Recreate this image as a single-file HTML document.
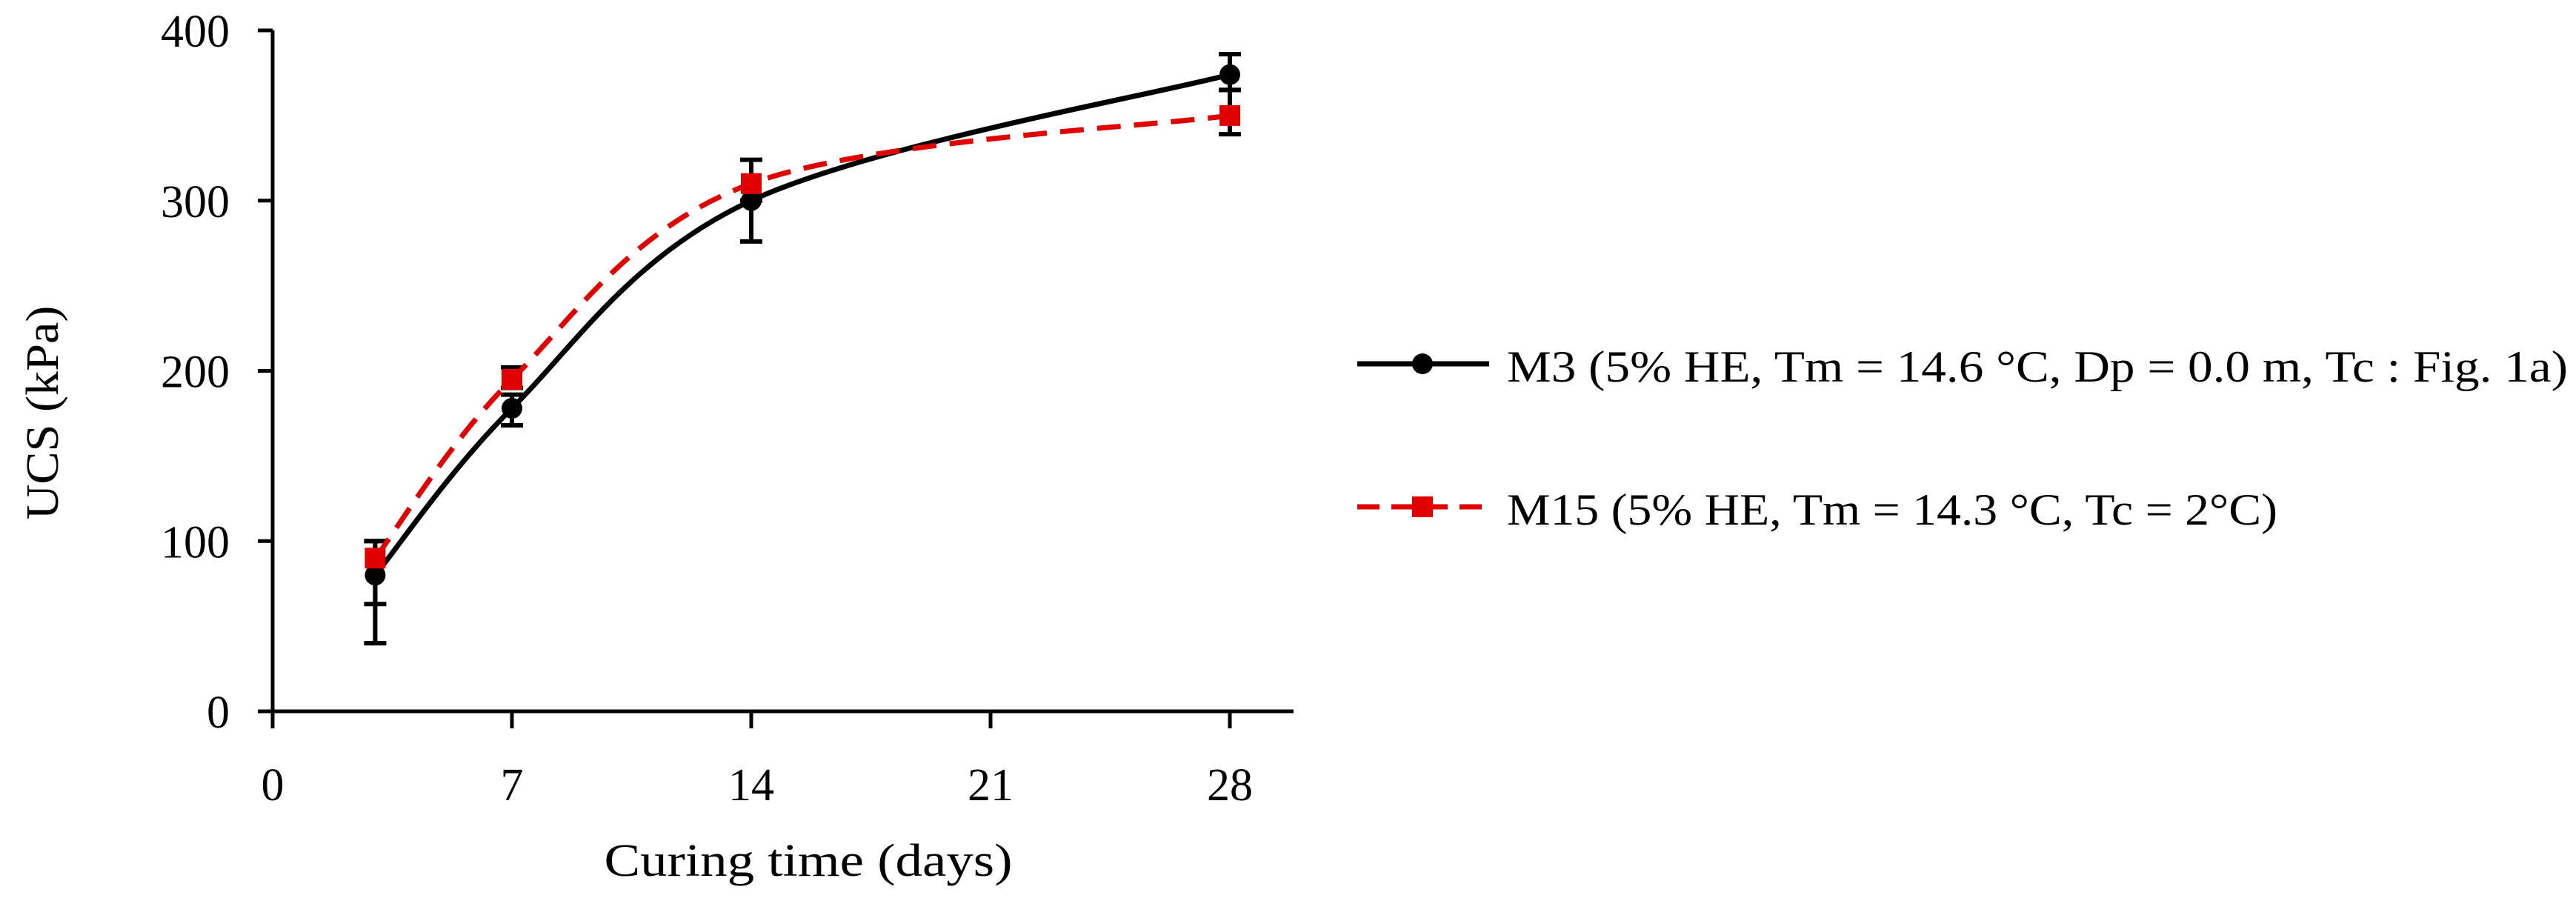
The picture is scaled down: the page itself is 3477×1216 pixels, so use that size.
<!DOCTYPE html>
<html><head><meta charset="utf-8"><style>html,body{margin:0;padding:0;background:#fff}svg{display:block}text{font-family:"Liberation Serif",serif;fill:#000}</style></head>
<body>
<svg id="chart" width="3477" height="1216" viewBox="0 0 3477 1216" xmlns="http://www.w3.org/2000/svg">
<g id="axes"></g>
<g id="series"></g>
<text x="1091" y="1182" font-size="62" text-anchor="middle" textLength="551" lengthAdjust="spacingAndGlyphs">Curing time (days)</text>
<text transform="translate(78,557) rotate(-90)" font-size="62" text-anchor="middle" textLength="289" lengthAdjust="spacingAndGlyphs">UCS (kPa)</text>
<g>
<line x1="1832" y1="491" x2="2010" y2="491" stroke="#000" stroke-width="7"/>
<circle cx="1920" cy="491" r="14" fill="#000"/>
<text x="2034" y="515" font-size="60" textLength="1432" lengthAdjust="spacingAndGlyphs">M3 (5% HE, Tm = 14.6 °C, Dp =  0.0 m, Tc : Fig. 1a)</text>
<line x1="1832" y1="684" x2="2010" y2="684" stroke="#e00000" stroke-width="7" stroke-dasharray="30,16"/>
<rect x="1906" y="670" width="28" height="28" fill="#e00000"/>
<text x="2034" y="708" font-size="60" textLength="1040" lengthAdjust="spacingAndGlyphs">M15 (5% HE, Tm = 14.3 °C, Tc = 2°C)</text>
</g>
</svg>
<script>
const days = [3, 7, 14, 28];
const m3Values = [80, 178, 300, 374];
const m3Lo = [40, 168, 276, 365];
const m3Hi = [100, 186, 300, 386];
const m15Values = [90, 195, 310, 350];
const m15Lo = [63, 190, 300, 339];
const m15Hi = [100, 202, 324, 365];
const xTicks = [0, 7, 14, 21, 28];
const yTicks = [0, 100, 200, 300, 400];

const NS = 'http://www.w3.org/2000/svg';
const X0 = 368, X1 = 1660, Y0 = 960, Y1 = 41;
function xs(d) { return X0 + (d / 28) * (X1 - X0); }
function ys(v) { return Y0 - (v / 400) * (Y0 - Y1); }
function mk(tag, attrs, parent) { const e = document.createElementNS(NS, tag); for (const k in attrs) e.setAttribute(k, attrs[k]); parent.appendChild(e); return e; }

const axes = document.getElementById('axes');
let e = mk('line', {x1: X0, y1: Y1, x2: X0, y2: Y0, stroke: '#000', 'stroke-width': 5}, axes);


e = mk('line', {x1: X0, y1: Y0, x2: 1746, y2: Y0, stroke: '#000', 'stroke-width': 5}, axes);


yTicks.forEach(v => {
  const t = mk('line', {x1: 348, y1: ys(v), x2: X0, y2: ys(v), stroke: '#000', 'stroke-width': 5}, axes);
  
  
  const l = mk('text', {x: 310, y: ys(v) + 22, 'font-size': 62, 'text-anchor': 'end'}, axes);
  l.textContent = v;
  
  
});
xTicks.forEach(d => {
  const t = mk('line', {x1: xs(d), y1: Y0, x2: xs(d), y2: 983, stroke: '#000', 'stroke-width': 5}, axes);
  
  
  const l = mk('text', {x: xs(d), y: 1080, 'font-size': 62, 'text-anchor': 'middle'}, axes);
  l.textContent = d;
  
  
});

function smoothPath(xsArr, vals) {
  const p = xsArr.map((d, i) => [xs(d), ys(vals[i])]);
  let s = 'M' + p[0][0] + ',' + p[0][1];
  for (let i = 0; i < p.length - 1; i++) {
    const a = p[Math.max(0, i - 1)], b = p[i], c = p[i + 1], d = p[Math.min(p.length - 1, i + 2)];
    const t = 1 / 6;
    s += ' C' + (b[0] + (c[0] - a[0]) * t) + ',' + (b[1] + (c[1] - a[1]) * t) + ' ' + (c[0] - (d[0] - b[0]) * t) + ',' + (c[1] - (d[1] - b[1]) * t) + ' ' + c[0] + ',' + c[1];
  }
  return s;
}
const g = document.getElementById('series');
function errBars(lo, hi, name) {
  days.forEach((d, i) => {
    const x = xs(d);
    const b = mk('path', {d: 'M' + x + ',' + ys(lo[i]) + 'V' + ys(hi[i]) + 'M' + (x - 15) + ',' + ys(lo[i]) + 'H' + (x + 15) + 'M' + (x - 15) + ',' + ys(hi[i]) + 'H' + (x + 15), stroke: '#000', 'stroke-width': 6, fill: 'none'}, g);
    
    
  });
}
errBars(m3Lo, m3Hi, 'm3-error-bar');
errBars(m15Lo, m15Hi, 'm15-error-bar');
e = mk('path', {d: smoothPath(days, m3Values), stroke: '#000', 'stroke-width': 7, fill: 'none'}, g);


e = mk('path', {d: smoothPath(days, m15Values), stroke: '#e00000', 'stroke-width': 7, fill: 'none', 'stroke-dasharray': '32,18'}, g);


days.forEach((d, i) => {
  const c = mk('circle', {cx: xs(d), cy: ys(m3Values[i]), r: 14, fill: '#000'}, g);
  
  
  const r = mk('rect', {x: xs(d) - 14, y: ys(m15Values[i]) - 14, width: 28, height: 28, fill: '#e00000'}, g);
  
  
});
</script>
</body></html>
